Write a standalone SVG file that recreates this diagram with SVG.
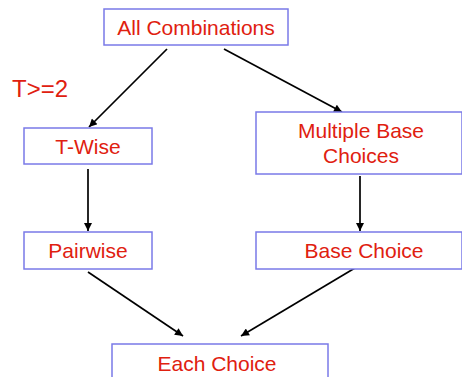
<svg xmlns="http://www.w3.org/2000/svg" width="462" height="377" viewBox="0 0 462 377">
<defs>
<style>
.box{fill:#fff;stroke:#7a7ae8;stroke-width:1.5}
.t{font-family:"Liberation Sans",Arial,sans-serif;font-size:21px;fill:#e0200f;text-anchor:middle}
.c{stroke:#000;stroke-width:1.7;fill:none;marker-end:url(#ah)}
</style>
<marker id="ah" viewBox="0 0 10 10" refX="10" refY="5" markerWidth="9" markerHeight="8" markerUnits="userSpaceOnUse" orient="auto">
<path d="M0,0 L10,5 L0,10 z" fill="#000"/>
</marker>
</defs>
<rect width="462" height="377" fill="#fff"/>
<g id="connectors">
<line class="c" x1="167" y1="49" x2="89" y2="127"/>
<line class="c" x1="224" y1="49" x2="342" y2="112"/>
<line class="c" x1="88" y1="169" x2="88" y2="231"/>
<line class="c" x1="360" y1="176" x2="360" y2="231"/>
<line class="c" x1="88" y1="272" x2="183" y2="336"/>
<line class="c" x1="360" y1="265" x2="241" y2="336"/>
</g>
<g id="all-combinations">
<rect class="box" x="104" y="9" width="184" height="36"/>
<text class="t" x="196" y="35">All Combinations</text>
</g>
<text id="t-label" class="t" x="12" y="97" style="text-anchor:start;font-size:24px">T&gt;=2</text>
<g id="t-wise">
<rect class="box" x="24" y="128" width="128" height="36"/>
<text class="t" x="88" y="154">T-Wise</text>
</g>
<g id="multiple-base-choices">
<rect class="box" x="256" y="112" width="206" height="62"/>
<text class="t" x="361" y="138">Multiple Base</text>
<text class="t" x="361" y="163">Choices</text>
</g>
<g id="pairwise">
<rect class="box" x="24" y="232" width="128" height="37"/>
<text class="t" x="88" y="258">Pairwise</text>
</g>
<g id="base-choice">
<rect class="box" x="256" y="232" width="206" height="37"/>
<text class="t" x="364" y="258">Base Choice</text>
</g>
<g id="each-choice">
<rect class="box" x="112" y="344" width="216" height="40"/>
<text class="t" x="217" y="371">Each Choice</text>
</g>
</svg>
